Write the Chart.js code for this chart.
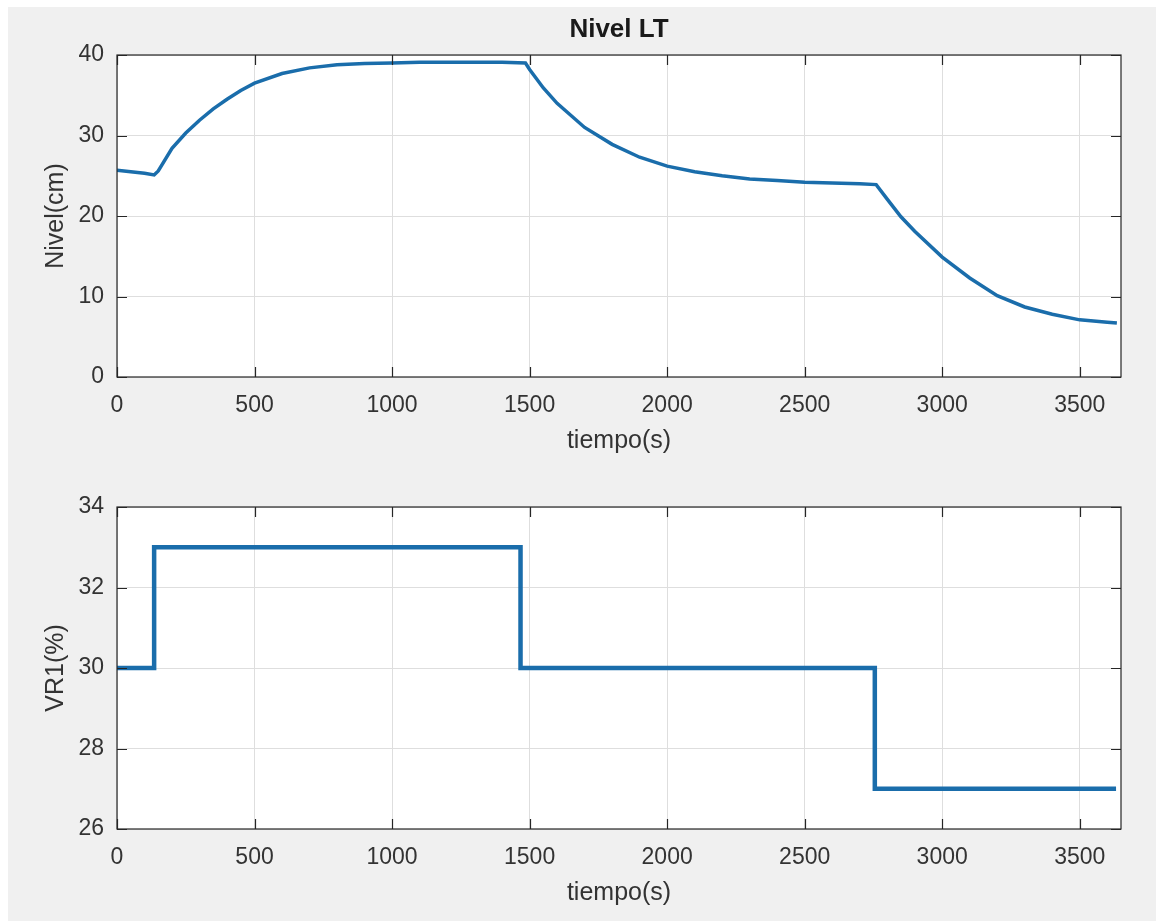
<!DOCTYPE html>
<html>
<head>
<meta charset="utf-8">
<title>Nivel LT</title>
<script src="https://cdn.jsdelivr.net/npm/chart.js@4.4.1/dist/chart.umd.min.js"></script>
<style>
  html, body { margin: 0; padding: 0; background: #ffffff; }
  #fig { position: absolute; left: 8px; top: 7px; width: 1148px; height: 914px; background: #f0f0f0; }
  canvas { position: absolute; left: 0; }
</style>
</head>
<body>
<div id="fig"></div>
<canvas id="nivelChart" width="1156" height="460" style="top:0"></canvas>
<canvas id="vrChart" width="1156" height="461" style="top:460px"></canvas>
<script>
// level measured by LT (cm) against time (s)
const nivelTime = [0, 50, 100, 135, 150, 200, 250, 300, 350, 400, 450, 500, 600, 700, 800, 900,
  1000, 1100, 1200, 1300, 1400, 1485, 1500, 1550, 1600, 1700, 1800, 1900, 2000, 2100, 2200,
  2300, 2400, 2500, 2600, 2700, 2760, 2800, 2850, 2900, 3000, 3100, 3200, 3300, 3400, 3500,
  3600, 3635];
const nivelValues = [25.7, 25.5, 25.3, 25.1, 25.6, 28.4, 30.3, 31.9, 33.3, 34.5, 35.6, 36.5,
  37.7, 38.4, 38.8, 38.95, 39.0, 39.1, 39.1, 39.1, 39.1, 39.0, 38.2, 35.9, 34.0, 31.0, 28.9,
  27.3, 26.2, 25.5, 25.0, 24.6, 24.4, 24.2, 24.1, 24.0, 23.9, 22.1, 19.9, 18.1, 14.9, 12.3,
  10.1, 8.7, 7.8, 7.1, 6.8, 6.7];

// valve opening VR1 (%), each value holds from the previous change up to its time
const vr1Time = [0, 135, 1467, 2755, 3632];
const vr1Values = [30, 33, 30, 27, 27];

// tick labels
const xTickValues = [0, 500, 1000, 1500, 2000, 2500, 3000, 3500];
const nivelTicks = [0, 10, 20, 30, 40];
const vr1Ticks = [26, 28, 30, 32, 34];
const xMax = 3650;

const lineColor = '#1a6dab';
const textColor = '#333333';
const gridColor = '#dedede';
const fontFamily = '"Liberation Sans", Arial, sans-serif';

// white plot box, frame and inward tick marks on all four sides
const boxPlugin = {
  id: 'box',
  beforeDraw(chart) {
    const { ctx, chartArea: a } = chart;
    ctx.save();
    ctx.fillStyle = '#ffffff';
    ctx.fillRect(a.left, a.top, a.right - a.left, a.bottom - a.top);
    ctx.restore();
  },
  afterDraw(chart, args, opts) {
    const { ctx, chartArea: a, scales } = chart;
    const len = 10;
    ctx.save();
    ctx.strokeStyle = '#262626';
    ctx.lineWidth = 1.2;
    ctx.strokeRect(a.left, a.top, a.right - a.left, a.bottom - a.top);
    ctx.beginPath();
    scales.x.ticks.forEach(t => {
      const px = Math.round(scales.x.getPixelForValue(t.value)) + 0.5;
      ctx.moveTo(px, a.bottom); ctx.lineTo(px, a.bottom - len);
      ctx.moveTo(px, a.top); ctx.lineTo(px, a.top + len);
    });
    scales.y.ticks.forEach(t => {
      const py = Math.round(scales.y.getPixelForValue(t.value)) + 0.5;
      ctx.moveTo(a.left, py); ctx.lineTo(a.left + len, py);
      ctx.moveTo(a.right, py); ctx.lineTo(a.right - len, py);
    });
    ctx.stroke();
    if (opts.title) {
      ctx.fillStyle = '#1a1a1a';
      ctx.font = 'bold 26px ' + fontFamily;
      ctx.textAlign = 'center';
      ctx.textBaseline = 'middle';
      ctx.fillText(opts.title, (a.left + a.right) / 2, opts.titleY);
    }
    ctx.restore();
  }
};

function setTicks(values) {
  return scale => { scale.ticks = values.map(v => ({ value: v })); };
}

function makeChart(id, time, values, cfg) {
  return new Chart(document.getElementById(id), {
    type: 'line',
    data: {
      datasets: [{
        data: time.map((t, i) => ({ x: t, y: values[i] })),
        borderColor: lineColor,
        borderWidth: cfg.lineWidth,
        pointRadius: 0,
        stepped: cfg.stepped,
        tension: 0
      }]
    },
    options: {
      responsive: false,
      animation: false,
      layout: { padding: { top: cfg.padTop, right: 35, left: 0, bottom: 0 } },
      plugins: {
        legend: { display: false },
        tooltip: { enabled: false },
        box: { title: cfg.title, titleY: 30 }
      },
      scales: {
        x: {
          type: 'linear',
          min: 0,
          max: xMax,
          afterBuildTicks: setTicks(xTickValues),
          afterFit(s) { s.height = cfg.xHeight; },
          grid: { color: gridColor, drawTicks: false, lineWidth: 1 },
          border: { display: false },
          ticks: {
            padding: 15,
            color: textColor,
            font: { family: fontFamily, size: 23 },
            maxRotation: 0,
            autoSkip: false,
            callback: v => String(v)
          },
          title: {
            display: true,
            text: 'tiempo(s)',
            color: textColor,
            font: { family: fontFamily, size: 25 },
            padding: { top: 0, bottom: cfg.xTitlePad }
          }
        },
        y: {
          min: cfg.yTicks[0],
          max: cfg.yTicks[cfg.yTicks.length - 1],
          afterBuildTicks: setTicks(cfg.yTicks),
          afterFit(s) { s.width = 117; },
          grid: { color: gridColor, drawTicks: false, lineWidth: 1 },
          border: { display: false },
          ticks: {
            padding: 13,
            color: textColor,
            font: { family: fontFamily, size: 23 },
            autoSkip: false,
            callback: v => String(v)
          },
          title: {
            display: true,
            text: cfg.yLabel,
            color: textColor,
            font: { family: fontFamily, size: 25 },
            padding: { top: 41, bottom: 0 }
          }
        }
      }
    },
    plugins: [boxPlugin]
  });
}

makeChart('nivelChart', nivelTime, nivelValues, {
  title: 'Nivel LT', yLabel: 'Nivel(cm)', yTicks: nivelTicks,
  padTop: 55, xHeight: 83, xTitlePad: 4, lineWidth: 3.5, stepped: false
});

makeChart('vrChart', vr1Time, vr1Values, {
  title: '', yLabel: 'VR1(%)', yTicks: vr1Ticks,
  padTop: 47, xHeight: 92, xTitlePad: 13, lineWidth: 4.5, stepped: 'before'
});
</script>
</body>
</html>
